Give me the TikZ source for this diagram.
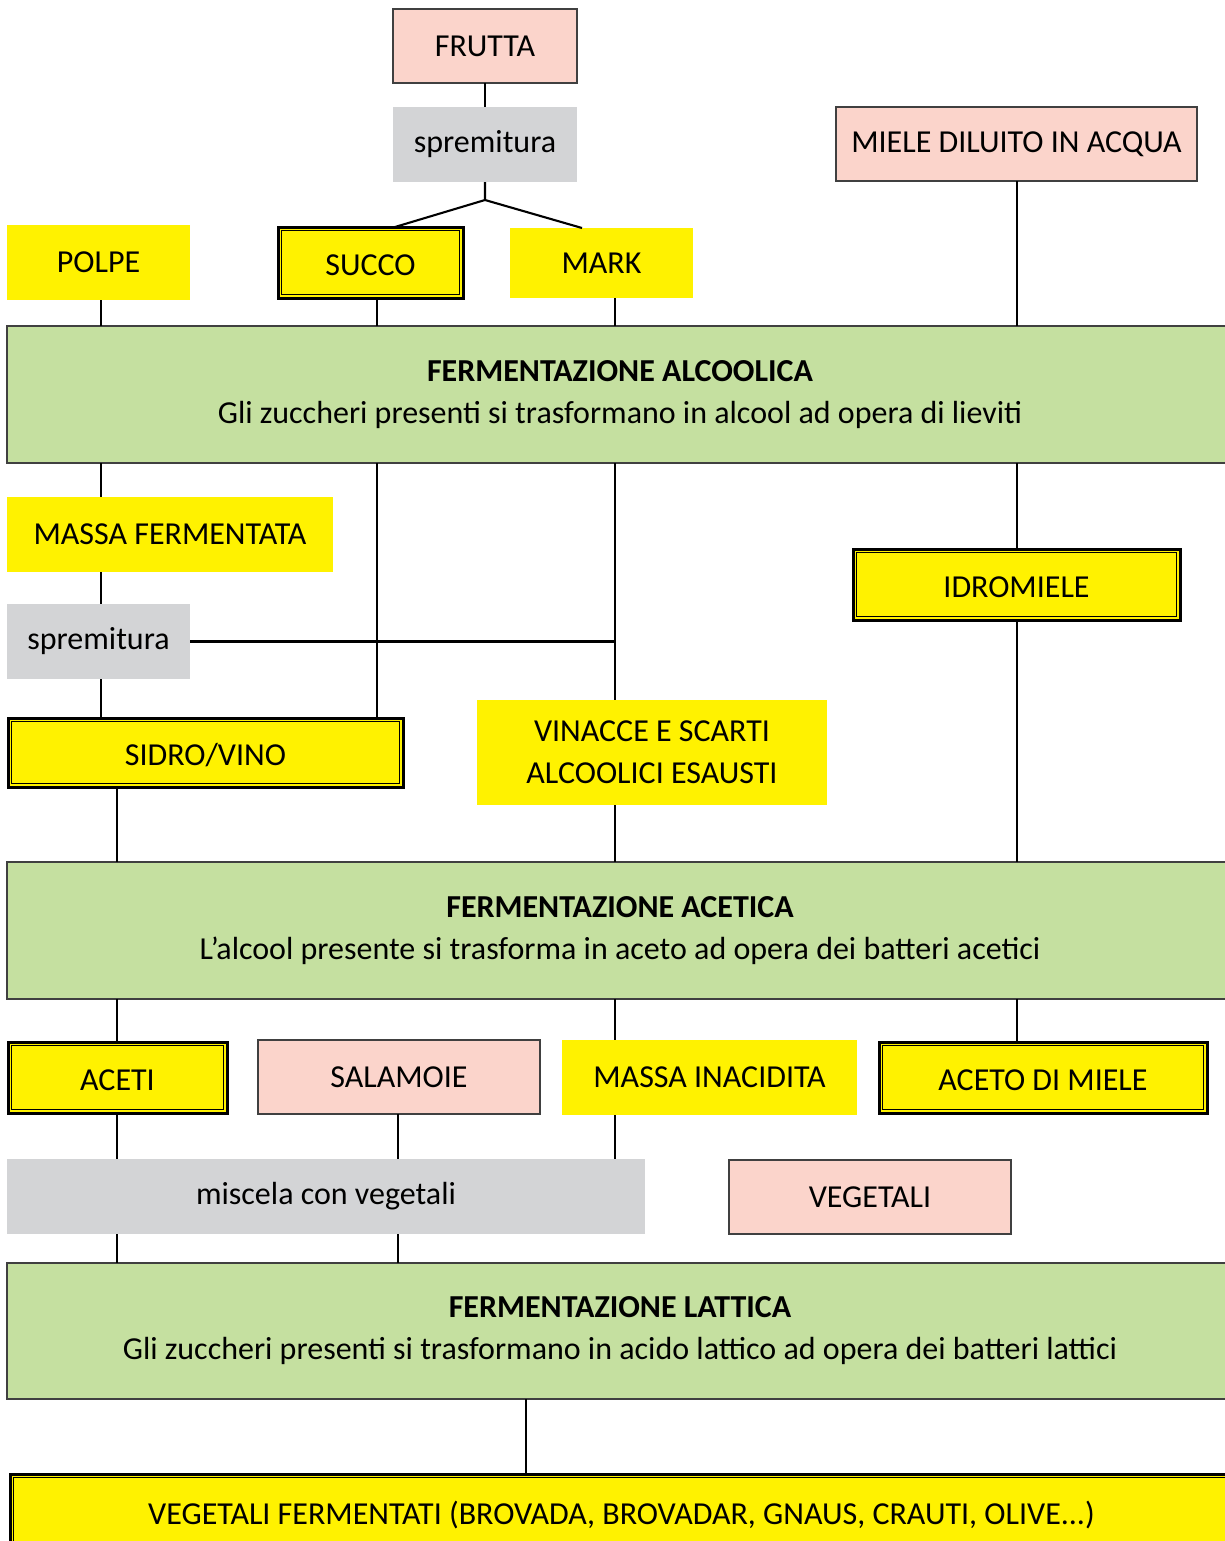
\documentclass[tikz,border=0pt]{standalone}
\usepackage{fontspec}
\setmainfont{Carlito}
\definecolor{ylw}{HTML}{FFF200}
\definecolor{pnk}{HTML}{FBD4CB}
\definecolor{gry}{HTML}{D3D4D6}
\definecolor{grn}{HTML}{C5E0A0}
\definecolor{brd}{HTML}{404040}
\begin{document}
\begin{tikzpicture}[x=0.5pt,y=-0.5pt,
  every node/.style={font=\fontsize{16}{21}\selectfont, inner sep=0pt, outer sep=0pt, align=center},
  spanxy/.style n args={4}{minimum width={(#3-#1)*0.5pt}, minimum height={(#4-#2)*0.5pt},
    at={({(#1+#3)/2},{(#2+#4)/2})}},
  ybox/.style={fill=ylw},
  pbox/.style={fill=pnk, draw=brd, line width=0.75pt},
  gbox/.style={fill=gry},
  fbox/.style={fill=grn, draw=brd, line width=0.9pt},
  dbox/.style={fill=ylw, draw=black, line width=1.5pt, text height=13pt, text depth=0pt,
    path picture={\draw[black,line width=0.5pt]
      ([shift={(1.9pt,-1.9pt)}]path picture bounding box.north west) rectangle
      ([shift={(-1.9pt,1.9pt)}]path picture bounding box.south east);}},
  conn/.style={draw=black, line width=1.05pt}]
\useasboundingbox (0,0) rectangle (1225,1541);
% nodes
\node[pbox, spanxy={393}{9}{577}{83}] (frutta) {FRUTTA};
\node[gbox, spanxy={393}{107}{577}{182}] (spr1) {spremitura};
\node[ybox, spanxy={7}{225}{190}{300}] (polpe) {POLPE};
\node[dbox, spanxy={278}{227}{463}{298}] (succo) {SUCCO};
\node[ybox, spanxy={510}{228}{693}{298}] (mark) {MARK};
\node[pbox, spanxy={836}{107}{1197}{181}] (miele) {MIELE DILUITO IN ACQUA};
\node[fbox, spanxy={7}{326}{1233}{463}] (alc) {\textbf{FERMENTAZIONE ALCOOLICA}\\Gli zuccheri presenti si trasformano in alcool ad opera di lieviti};
\node[ybox, spanxy={7}{497}{333}{572}] (massa) {MASSA FERMENTATA};
\node[gbox, spanxy={7}{604}{190}{679}] (spr2) {spremitura};
\node[dbox, spanxy={8}{718}{403}{787}] (sidro) {SIDRO/VINO};
\node[ybox, spanxy={477}{700}{827}{805}] (vin) {VINACCE E SCARTI\\ALCOOLICI ESAUSTI};
\node[dbox, spanxy={853}{549}{1180}{620}] (idro) {IDROMIELE};
\node[fbox, spanxy={7}{862}{1233}{999}] (ace) {\textbf{FERMENTAZIONE ACETICA}\\L’alcool presente si trasforma in aceto ad opera dei batteri acetici};
\node[dbox, spanxy={8}{1042}{227}{1113}] (aceti) {ACETI};
\node[pbox, spanxy={258}{1040}{540}{1114}] (sal) {SALAMOIE};
\node[ybox, spanxy={562}{1040}{857}{1115}] (minac) {MASSA INACIDITA};
\node[dbox, spanxy={879}{1042}{1207}{1113}] (acmiele) {ACETO DI MIELE};
\node[gbox, spanxy={7}{1159}{645}{1234}] (misc) {miscela con vegetali};
\node[pbox, spanxy={729}{1160}{1011}{1234}] (veg) {VEGETALI};
\node[fbox, spanxy={7}{1263}{1233}{1399}] (latt) {\textbf{FERMENTAZIONE LATTICA}\\Gli zuccheri presenti si trasformano in acido lattico ad opera dei batteri lattici};
\node[dbox, spanxy={10}{1474}{1233}{1548}] (vf) {VEGETALI FERMENTATI (BROVADA, BROVADAR, GNAUS, CRAUTI, OLIVE...)};
% column coordinates
\coordinate (j) at (485,200);
\coordinate (kL) at (395,0);
\coordinate (kR) at (582,0);
\coordinate (k101) at (101,0);
\coordinate (k117) at (117,0);
\coordinate (k377) at (377,0);
\coordinate (k398) at (398,0);
\coordinate (k526) at (526,0);
\coordinate (k615) at (615,0);
\coordinate (k1017) at (1017,0);
% connectors
\draw[conn] (frutta.south) -- (spr1.north);
\draw[conn] (spr1.south) -- (j) -- (succo.north -| kL);
\draw[conn] (j) -- (mark.north -| kR);
\draw[conn] (polpe.south -| k101) -- (alc.north -| k101);
\draw[conn] (succo.south -| k377) -- (alc.north -| k377);
\draw[conn] (mark.south -| k615) -- (alc.north -| k615);
\draw[conn] (miele.south -| k1017) -- (alc.north -| k1017);
\draw[conn] (alc.south -| k101) -- (massa.north -| k101);
\draw[conn] (massa.south -| k101) -- (spr2.north -| k101);
\draw[conn] (spr2.south -| k101) -- (sidro.north -| k101);
\draw[conn] (alc.south -| k377) -- (sidro.north -| k377);
\draw[conn] (alc.south -| k615) -- (vin.north -| k615);
\draw[conn] (spr2.east) -- (spr2.east -| k615);
\draw[conn] (alc.south -| k1017) -- (idro.north -| k1017);
\draw[conn] (idro.south -| k1017) -- (ace.north -| k1017);
\draw[conn] (sidro.south -| k117) -- (ace.north -| k117);
\draw[conn] (vin.south -| k615) -- (ace.north -| k615);
\draw[conn] (ace.south -| k117) -- (aceti.north -| k117);
\draw[conn] (ace.south -| k615) -- (minac.north -| k615);
\draw[conn] (ace.south -| k1017) -- (acmiele.north -| k1017);
\draw[conn] (aceti.south -| k117) -- (misc.north -| k117);
\draw[conn] (sal.south -| k398) -- (misc.north -| k398);
\draw[conn] (minac.south -| k615) -- (misc.north -| k615);
\draw[conn] (misc.south -| k117) -- (latt.north -| k117);
\draw[conn] (misc.south -| k398) -- (latt.north -| k398);
\draw[conn] (latt.south -| k526) -- (vf.north -| k526);
\end{tikzpicture}
\end{document}
